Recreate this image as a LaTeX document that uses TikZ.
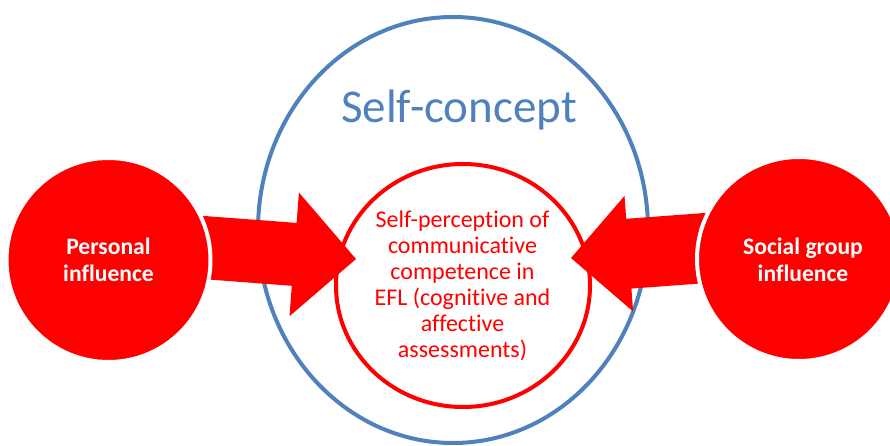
\documentclass[tikz,border=0pt]{standalone}
\usepackage{fontspec}
\setmainfont{Carlito}[Ligatures=NoCommon]
\usetikzlibrary{shapes.geometric}
\definecolor{ofblue}{HTML}{4F81BD}
\definecolor{ofred}{HTML}{FF0000}
\tikzset{
  bigcirc/.style={circle, minimum size=204pt, inner sep=0pt, fill=ofred, draw=white, line width=4pt},
  circtext/.style={font=\bfseries\fontsize{23.6}{27}\selectfont, text=white, align=center},
  blockarrow/.style={fill=ofred, draw=none},
}
\begin{document}
\begin{tikzpicture}[x=1pt,y=-1pt]
\useasboundingbox (0,0) rectangle (890,446);
\clip (0,0) rectangle (890,446);
% outer self-concept ellipse
\node[ellipse, draw=ofblue, line width=4pt, minimum width=390pt, minimum height=426pt, inner sep=0pt] (concept) at (453,230) {};
\node[anchor=base, text=ofblue, font=\fontsize{47}{50}\selectfont, inner sep=0pt] (concepttxt) at (459,122.5) {Self-concept};
% inner self-perception circle
\node[ellipse, draw=ofred, line width=4pt, minimum width=254pt, minimum height=243pt, inner sep=0pt] (selfp) at (463,285.5) {};
% left block arrow
\coordinate (ltip) at (356,259);
\fill[blockarrow] (142.2,274.5) -- (147,211.7) -- (296.6,222.9) -- (298.9,192.5) -- (ltip)
  -- (289.5,316.2) -- (291.8,285.8) -- cycle;
% right block arrow
\coordinate (rtip) at (571,258);
\fill[blockarrow] (761,279) -- (755.8,209.2) -- (626.2,218.8) -- (624.5,195.9) -- (rtip)
  -- (633.1,311.5) -- (631.4,288.6) -- cycle;
% outer influence circles
\node[bigcirc] (pers) at (108.5,260) {};
\node[circtext] at (pers.center) {Personal\\influence};
\node[bigcirc] (soc) at (799,259) {};
\node[circtext] at (803,260) {Social group\\influence};
% inner text
\node[text=ofred, align=center, font=\fontsize{24}{26.1}\selectfont, inner sep=0pt] (selftxt) at (462.5,286)
  {Self-perception of\\communicative\\competence in\\EFL (cognitive and\\affective\\assessments)};
\end{tikzpicture}
\end{document}
